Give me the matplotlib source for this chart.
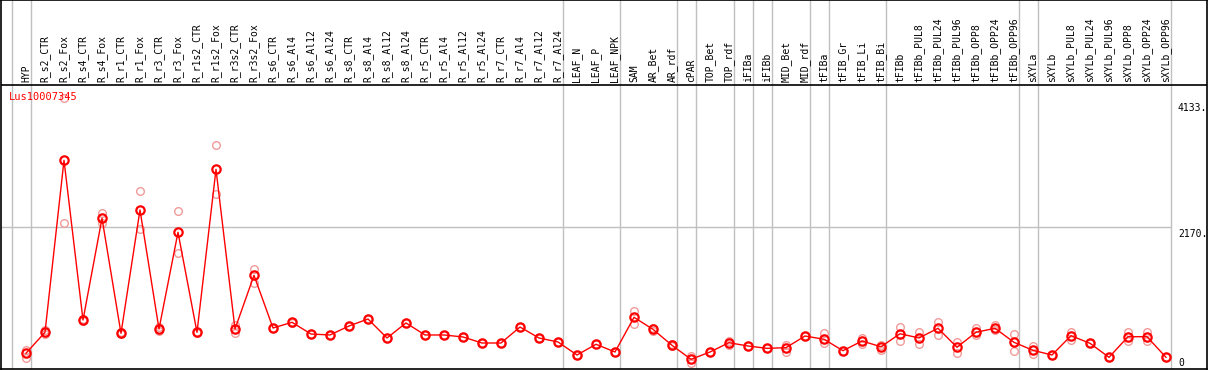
import numpy as np
import matplotlib
matplotlib.use('Agg')
import matplotlib.pyplot as plt

gene = "Lus10007345"

names = ["HYP", "R_s2_CTR", "R_s2_Fox", "R_s4_CTR", "R_s4_Fox", "R_r1_CTR", "R_r1_Fox",
         "R_r3_CTR", "R_r3_Fox", "R_r1s2_CTR", "R_r1s2_Fox", "R_r3s2_CTR", "R_r3s2_Fox",
         "R_s6_CTR", "R_s6_Al4", "R_s6_Al12", "R_s6_Al24", "R_s8_CTR", "R_s8_Al4", "R_s8_Al12",
         "R_s8_Al24", "R_r5_CTR", "R_r5_Al4", "R_r5_Al12", "R_r5_Al24", "R_r7_CTR", "R_r7_Al4",
         "R_r7_Al12", "R_r7_Al24", "LEAF_N", "LEAF_P", "LEAF_NPK", "SAM", "AR_Bet", "AR_rdf",
         "cPAR", "TOP_Bet", "TOP_rdf", "iFIBa", "iFIBb", "MID_Bet", "MID_rdf", "tFIBa",
         "tFIB_Gr", "tFIB_Li", "tFIB_Bi", "tFIBb", "tFIBb_PUL8", "tFIBb_PUL24", "tFIBb_PUL96",
         "tFIBb_OPP8", "tFIBb_OPP24", "tFIBb_OPP96", "sXYLa", "sXYLb", "sXYLb_PUL8",
         "sXYLb_PUL24", "sXYLb_PUL96", "sXYLb_OPP8", "sXYLb_OPP24", "sXYLb_OPP96"]

means = [206, 533, 3212, 724, 2308, 517, 2438, 584, 2090, 533, 3071, 584, 1420,
         600, 688, 506, 491, 631, 740, 444, 678, 491, 491, 460, 366, 366, 615, 444, 382,
         179, 346, 226, 766, 579, 330, 112, 226, 371, 319, 283, 293, 475, 424, 246, 397,
         308, 510, 445, 595, 299, 533, 595, 377, 252, 179, 480, 361, 143, 464, 464, 143]

rep1 = [257, 569, 4178, 740, 2396, 530, 2734, 610, 2422, 540, 3445, 642, 1519,
        605, 695, 506, 491, 631, 740, 444, 678, 491, 491, 460, 366, 366, 615, 444, 382,
        179, 346, 226, 864, 600, 345, 164, 226, 400, 319, 283, 335, 475, 517, 246, 439,
        330, 620, 542, 698, 386, 595, 646, 506, 324, 179, 533, 361, 143, 533, 533, 143]

rep2 = [137, 510, 2230, 710, 2240, 505, 2137, 560, 1763, 525, 2682, 527, 1305,
        595, 680, 506, 491, 631, 740, 444, 678, 491, 491, 460, 366, 366, 615, 444, 382,
        179, 346, 226, 657, 560, 315, 50, 226, 340, 319, 283, 231, 475, 361, 246, 346,
        257, 402, 346, 491, 215, 491, 569, 246, 190, 179, 413, 361, 143, 397, 397, 143]

# group separators (after these category indices)
seps = [-1, 0, 28, 31, 34, 35, 37, 38, 39, 41, 42, 45, 52, 53, 60]

yticks = [4133, 2170, 0]
ytick_labels = ["4133.", "2170.", "0"]

W, H = 1209, 370
fig = plt.figure(figsize=(W / 100, H / 100), dpi=100)
ax = fig.add_axes([1 / W, 1 - 368.5 / H, 1206 / W, 368.5 / H])

# pixel <-> value mapping of the reference
scale = 0.0642
y0 = 366.5
ax.set_ylim(-(368.5 - y0) / scale, y0 / scale)
ax.set_xlim((1 - 26) / 19, (1207 - 26) / 19)
ax.set_xticks([])
ax.set_yticks([])
for s in ax.spines.values():
    s.set_color('black')
    s.set_linewidth(1.2)

x = np.arange(len(names))
hdr = (y0 - 85) / scale

for i in seps:
    ax.axvline(i + 0.25, color='#c0c0c0', lw=1, zorder=1)
ax.hlines(2170, ax.get_xlim()[0], 60.25, color='#c0c0c0', lw=1, zorder=1)
ax.axhline(hdr, color='black', lw=1.2, zorder=2)

for i, n in enumerate(names):
    ax.text(i, (y0 - 82) / scale, n, rotation=90, ha='center', va='bottom',
            family='DejaVu Sans Mono', fontsize=7)

ax.plot(x, rep1, 'o', mfc='none', mec='#f09a9a', ms=5.5, mew=1, zorder=3)
ax.plot(x, rep2, 'o', mfc='none', mec='#f09a9a', ms=5.5, mew=1, zorder=3)
ax.plot(x, means, '-', color='red', lw=1, zorder=4)
ax.plot(x, means, 'o', mfc='none', mec='red', ms=6, mew=1.6, zorder=5)

ax.text((9.3 - 26) / 19, (y0 - 96.7) / scale, gene, color='red', ha='left', va='center',
        family='DejaVu Sans Mono', fontsize=7.5)

for v, lab in zip(yticks, ytick_labels):
    ypos = max(v - 1.6 / scale, (y0 - 358.3) / scale)
    ax.text((1178 - 26) / 19, ypos, lab, ha='left', va='top',
            family='DejaVu Sans Mono', fontsize=7)

fig.savefig('out.png', dpi=100)
